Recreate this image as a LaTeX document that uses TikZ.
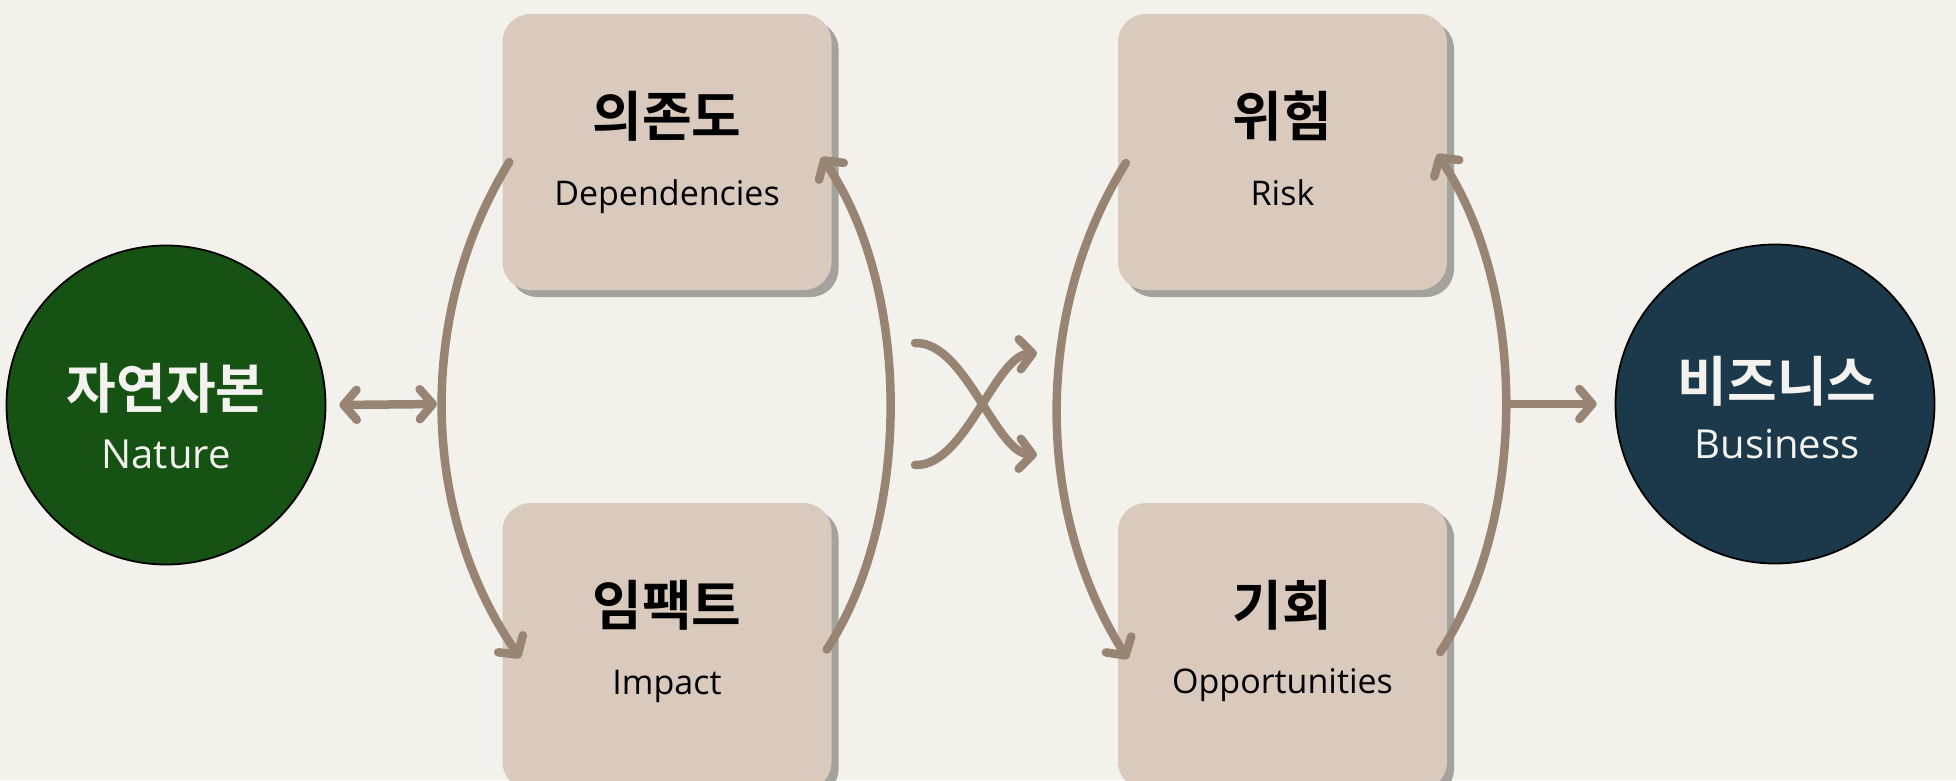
\documentclass[tikz,border=0pt]{standalone}
\usepackage{fontspec}
\setmainfont{Open Sans}
\newfontfamily\krfont{Noto Sans CJK KR}[BoldFont={* Bold}]
\usetikzlibrary{arrows.meta,shadows,calc}
\definecolor{bgc}{HTML}{F2F1EC}
\definecolor{boxc}{HTML}{DACABD}
\definecolor{shadowc}{HTML}{A3A29D}
\definecolor{linec}{HTML}{978473}
\definecolor{natc}{HTML}{155213}
\definecolor{busc}{HTML}{1B394A}
\definecolor{lighttext}{HTML}{F4F2EE}
\tikzset{
  barb/.tip={Straight Barb[length=13pt,width=30pt,round]},
  cardbox/.style={fill=boxc, rounded corners=28pt, inner sep=0pt,
    minimum width=329pt,
    drop shadow={shadow xshift=7pt, shadow yshift=-7pt, fill=shadowc, opacity=1}},
  orb/.style={circle, draw=black, line width=1.8pt, minimum size=319pt, inner sep=0pt},
  krlabel/.style={font=\krfont\bfseries\fontsize{54pt}{60pt}\selectfont, inner sep=0pt, anchor=center},
  enlabel/.style={font=\fontsize{34pt}{40pt}\selectfont, inner sep=0pt, anchor=base},
  orbkr/.style={krlabel, text=lighttext},
  orben/.style={font=\fontsize{40pt}{46pt}\selectfont, inner sep=0pt, anchor=base, text=lighttext},
  conn/.style={draw=linec, line width=8.5pt, line cap=round}
}
\begin{document}
\begin{tikzpicture}[x=1pt,y=-1pt]
\useasboundingbox (0,0) rectangle (1956,780);
\clip (0,0) rectangle (1956,780);
\fill[bgc] (0,0) rectangle (1956,780);

% boxes
\node[cardbox, minimum height=276pt] (dep) at (667,152) {};
\node[cardbox, minimum height=287pt] (imp) at (667,646.5) {};
\node[cardbox, minimum height=276pt] (risk) at (1282.5,152) {};
\node[cardbox, minimum height=287pt] (opp) at (1282.5,646.5) {};

\node[krlabel] (depK) at (667,116) {의존도};
\node[enlabel] (depE) at (667,205) {Dependencies};
\node[krlabel] (impK) at (667,605) {임팩트};
\node[enlabel] (impE) at (667,694) {Impact};
\node[krlabel] (riskK) at (1282.5,116) {위험};
\node[enlabel] (riskE) at (1282.5,205) {Risk};
\node[krlabel] (oppK) at (1282.5,605) {기회};
\node[enlabel] (oppE) at (1282.5,693) {Opportunities};

% circles
\node[orb, fill=natc] (nat) at (166,405) {};
\node[orbkr] (natK) at (166,388) {자연자본};
\node[orben] (natE) at (166,468) {Nature};
\node[orb, fill=busc] (bus) at (1775,404) {};
\node[orbkr] (busK) at (1777,381) {비즈니스};
\node[orben] (busE) at (1777,458) {Business};

% arc coordinates
\coordinate (lmid) at (437,404);
\coordinate (rmid) at (1506,404);
\coordinate (xa) at (915,343);
\coordinate (xb) at (915,465);
\coordinate (xc) at (1037,353);
\coordinate (xd) at (1037,455);

% left pair arcs
\draw[conn, -barb] ($(dep.west)+(7,10)$) .. controls (418,310) and (418,510) .. ($(imp.west)+(18,11.5)$);
\draw[conn, -barb] ($(imp.east)+(-5,3)$) .. controls (912,520) and (912,290) .. ($(dep.east)+(-10,5)$);
% right pair arcs
\draw[conn, -barb] ($(risk.west)+(8,11)$) .. controls (1034,310) and (1034,510) .. ($(opp.west)+(10,12.5)$);
\draw[conn, -barb] ($(opp.east)+(-7,5.5)$) .. controls (1528,520) and (1528,290) .. ($(risk.east)+(-10,2)$);

% nature <-> left arc
\draw[conn, barb-barb] ($(nat.east)+(13,0)$) -- (lmid);
% right arc -> business
\draw[conn, -barb] (rmid) -- ($(bus.west)+(-18,0)$);

% crossing arrows
\draw[conn, -barb] (xa) .. controls (965,341) and (995,452) .. (xd);
\draw[conn, -barb] (xb) .. controls (965,467) and (995,356) .. (xc);
\end{tikzpicture}
\end{document}
